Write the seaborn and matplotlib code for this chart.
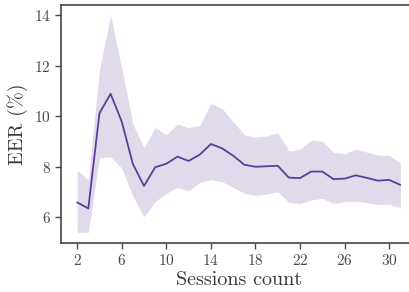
import numpy as np
import pandas as pd
import matplotlib
matplotlib.use("Agg")
import matplotlib.pyplot as plt
import seaborn as sns

sessions = list(range(2, 32))
eer_mean = [6.58, 6.34, 10.11, 10.88, 9.78, 8.10, 7.23, 7.97, 8.11, 8.39,
            8.22, 8.47, 8.89, 8.72, 8.43, 8.07, 7.99, 8.01, 8.03, 7.56,
            7.54, 7.80, 7.80, 7.50, 7.52, 7.65, 7.55, 7.44, 7.47, 7.27]
eer_upper = [7.86, 7.47, 11.82, 14.00, 11.89, 9.68, 8.75, 9.55, 9.25, 9.68,
             9.54, 9.63, 10.50, 10.30, 9.78, 9.26, 9.16, 9.21, 9.34, 8.61,
             8.69, 9.04, 9.00, 8.56, 8.50, 8.69, 8.57, 8.45, 8.44, 8.15]
eer_lower = [5.39, 5.39, 8.35, 8.39, 7.93, 6.81, 6.01, 6.61, 6.94, 7.17,
             7.04, 7.37, 7.47, 7.40, 7.17, 6.94, 6.86, 6.91, 7.00, 6.57,
             6.54, 6.67, 6.74, 6.54, 6.61, 6.62, 6.57, 6.49, 6.51, 6.37]
x_ticks = [2, 6, 10, 14, 18, 22, 26, 30]
y_ticks = [6, 8, 10, 12, 14]

# long table: three values per session; median = mean, 100% interval = band
df = pd.DataFrame({
    "sessions": sessions * 3,
    "eer": eer_lower + eer_mean + eer_upper,
})

sns.set_theme(style="ticks")
plt.rcParams["font.family"] = ["cmr10", "DejaVu Serif"]
plt.rcParams["axes.formatter.use_mathtext"] = True
plt.rcParams["mathtext.fontset"] = "cm"

fig = plt.figure(figsize=(4.09, 2.92), dpi=100)
ax = fig.add_axes([61 / 409, 1 - 243 / 292, (416.5 - 61) / 409, (243 - 4.7) / 292])

sns.lineplot(data=df, x="sessions", y="eer", estimator="median",
             errorbar=("pi", 100), color="#5e3c99", linewidth=1.3, ax=ax,
             err_kws={"linewidth": 0, "alpha": 0.19})

ax.set_xlim(0.55, 32.45)
ax.set_ylim(4.97, 14.41)
ax.set_xticks(x_ticks)
ax.set_yticks(y_ticks)
ax.set_xlabel("Sessions count", fontsize=14.5, color="#3a3a3a", labelpad=2)
ax.set_ylabel("EER (%)", fontsize=14.5, color="#3a3a3a", labelpad=4)
ax.tick_params(labelsize=11, colors="#4a4a4a", length=4, width=1)
for s in ax.spines.values():
    s.set_color("#444444")
    s.set_linewidth(1.2)
ax.spines["right"].set_visible(False)

fig.savefig("out.png", dpi=100)
